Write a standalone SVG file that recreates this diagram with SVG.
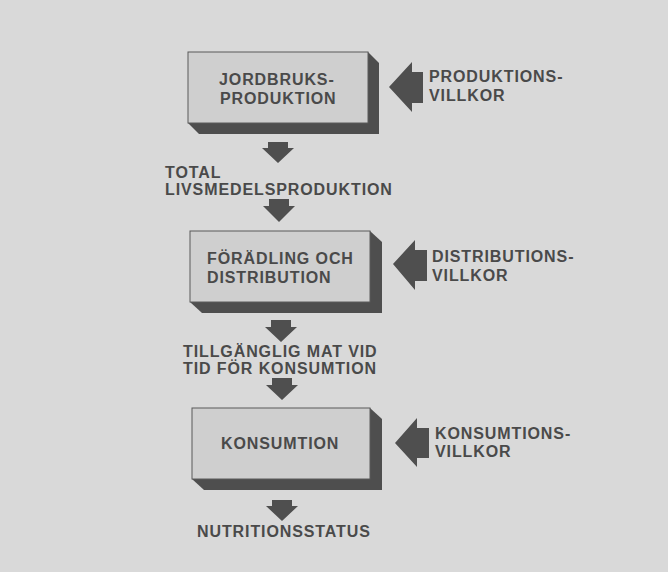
<svg xmlns="http://www.w3.org/2000/svg" width="668" height="572" viewBox="0 0 668 572">
<style>
.face{fill:#cfcfcf;stroke:#5a5a5a;stroke-width:1}
.depth{fill:#4e4e4e}
.arr{fill:#4f4f4f}
text{font-family:"Liberation Sans",Arial,sans-serif;font-weight:bold;font-size:16px;letter-spacing:0.9px;fill:#4a4a4a}
</style>
<rect width="668" height="572" fill="#d9d9d9"/>
<g id="node-jordbruk">
<polygon class="depth" points="368,52 379,63 379,134 199,134 188,123"/>
<rect class="face" x="188" y="52" width="180" height="71"/>
<text x="219" y="85">JORDBRUKS-</text>
<text x="220" y="104">PRODUKTION</text>
</g>
<g id="node-foradling">
<polygon class="depth" points="370,231 382,242 382,313 202,313 190,302"/>
<rect class="face" x="190" y="231" width="180" height="71"/>
<text x="207" y="264">FÖRÄDLING OCH</text>
<text x="207" y="283">DISTRIBUTION</text>
</g>
<g id="node-konsumtion">
<polygon class="depth" points="370,408 382,419 382,490 204,490 192,479"/>
<rect class="face" x="192" y="408" width="178" height="71"/>
<text x="221" y="449">KONSUMTION</text>
</g>
<g id="node-produktionsvillkor">
<text x="429" y="82">PRODUKTIONS-</text>
<text x="429" y="101">VILLKOR</text>
</g>
<g id="node-distributionsvillkor">
<text x="432" y="262">DISTRIBUTIONS-</text>
<text x="432" y="281">VILLKOR</text>
</g>
<g id="node-konsumtionsvillkor">
<text x="435" y="439">KONSUMTIONS-</text>
<text x="435" y="457">VILLKOR</text>
</g>
<g id="node-total">
<text x="165" y="178">TOTAL</text>
<text x="165" y="195">LIVSMEDELSPRODUKTION</text>
</g>
<g id="node-tillganglig">
<text x="183" y="357">TILLGÄNGLIG MAT VID</text>
<text x="183" y="374">TID FÖR KONSUMTION</text>
</g>
<g id="node-nutrition">
<text x="197" y="537">NUTRITIONSSTATUS</text>
</g>
<g id="connectors">
<polygon class="arr" points="389,87 412,62 412,72 423,72 423,103 412,103 412,112"/>
<polygon class="arr" points="393,264 415,240 415,250 427,250 427,281 415,281 415,290"/>
<polygon class="arr" points="395,443 417,418 417,428 429,428 429,458 417,458 417,467"/>
<polygon class="arr" points="268,142 288,142 288,148 294,148 278,163 262,148 268,148"/>
<polygon class="arr" points="269,199 289,199 289,206 295,206 279,222 263,206 269,206"/>
<polygon class="arr" points="271,320 291,320 291,327 297,327 281,342 265,327 271,327"/>
<polygon class="arr" points="272,378 292,378 292,385 298,385 282,400 266,385 272,385"/>
<polygon class="arr" points="272,500 292,500 292,506 298,506 282,521 266,506 272,506"/>
</g>
</svg>
